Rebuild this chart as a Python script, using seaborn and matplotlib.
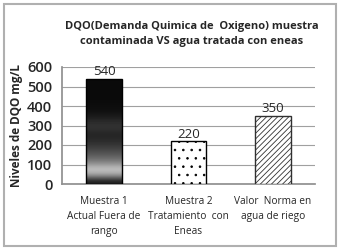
import numpy as np
import pandas as pd
import matplotlib
matplotlib.use("Agg")
import matplotlib.pyplot as plt
import seaborn as sns
from matplotlib.patches import Rectangle

categories = ["Muestra 1\nActual Fuera de\nrango", "Muestra 2\nTratamiento  con\nEneas", "Valor  Norma en\nagua de riego"]
values = [540, 220, 350]
title = "DQO(Demanda Quimica de  Oxigeno) muestra\ncontaminada VS agua tratada con eneas"
ylabel = "Niveles de DQO mg/L"

sns.set_theme(style="white")
plt.rcParams['font.family'] = ['Open Sans', 'DejaVu Sans']
plt.rcParams['hatch.linewidth'] = 0.6

df = pd.DataFrame({"cat": categories, "val": values})
fig = plt.figure(figsize=(3.4, 2.5), dpi=100)
ax = fig.add_axes([62/340, 1-184/250, (315-62)/340, (184-67)/250])

sns.barplot(data=df, x="cat", y="val", ax=ax, width=0.42, color="white",
            edgecolor="black", linewidth=1.0, zorder=3)

ax.set_ylim(0, 600)
ax.set_yticks(range(0, 601, 100))
ax.yaxis.grid(True, color="#a0a0a0", linewidth=0.8, zorder=0)
ax.set_axisbelow(True)
for s in ["top", "right"]:
    ax.spines[s].set_visible(False)
ax.spines["left"].set_color("#909090")
ax.spines["bottom"].set_color("#909090")
ax.tick_params(axis="y", length=0, labelsize=10.5, pad=7)
ax.tick_params(axis="x", length=0, labelsize=7.3, pad=9)
for lab in ax.get_yticklabels():
    lab.set_fontweight("semibold")
for lab in ax.get_xticklabels():
    lab.set_linespacing(1.45)
ax.set_xlabel("")
ax.set_ylabel(ylabel, fontsize=8.5, fontweight="bold", labelpad=3)

patches = ax.patches
# bar 1 gradient (bottom -> top)
p = patches[0]
x0, w = p.get_x(), p.get_width()
h = p.get_height()
grad = np.array([0.1, 0.6, 0.8, 0.55, 0.4, 0.3, 0.22, 0.16, 0.14, 0.2, 0.18, 0.1,
                 0.06, 0.05, 0.04, 0.04, 0.04, 0.04])
img = np.tile(grad.reshape(-1, 1), (1, 10))
im = ax.imshow(img, extent=[x0, x0 + w, 0, h], origin="lower", cmap="gray",
               vmin=0, vmax=1, aspect="auto", interpolation="bicubic", zorder=3.5)
im.set_clip_path(p)
p.set_facecolor("none")
p.set_zorder(4)
patches[1].set_hatch("..")
patches[2].set_hatch("//////")
patches[2].set_edgecolor("#303030")
ax.set_xlim(-0.5, 2.5)

for p, v in zip(patches, values):
    ax.text(p.get_x() + p.get_width() / 2, v + 3, str(v), ha="center", va="bottom",
            fontsize=9.5, zorder=5)

fig.text(192/340, 1 - 34/250, title, ha="center", va="center", fontsize=8,
         fontweight="bold", linespacing=1.6)

fig.patches.append(Rectangle((4/340, 4/250), 332/340, 242/250, transform=fig.transFigure,
                             fill=False, edgecolor="#b0b0b0", linewidth=1.5))
fig.savefig("out.png", dpi=100)
